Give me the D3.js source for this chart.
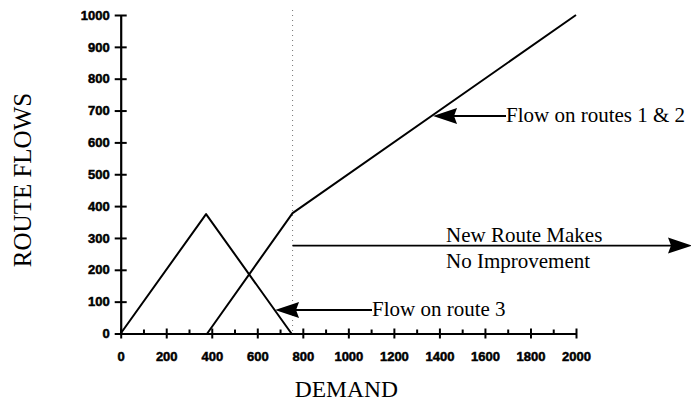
<!DOCTYPE html>
<html>
<head>
<meta charset="utf-8">
<script src="https://cdn.jsdelivr.net/npm/d3@7"></script>
<style>
  body { margin: 0; background: #fff; }
  svg { display: block; }
</style>
</head>
<body>
<div id="chart"></div>
<script>
// values
var route3 = [[0, 0], [375, 375], [750, 0]];
var routes12 = [[380, 0], [755, 378], [2000, 1000]];
var xTicks = [0, 200, 400, 600, 800, 1000, 1200, 1400, 1600, 1800, 2000];
var xMinor = [100, 300, 500, 700, 900, 1100, 1300, 1500, 1700, 1900];
var yTicks = [0, 100, 200, 300, 400, 500, 600, 700, 800, 900, 1000];
var breakDemand = 755;
var noImproveFlow = 276;
var route3Note = {x: 678, y: 74, text: 'Flow on route 3'};
var routes12Note = {x: 1372, y: 683, text: 'Flow on routes 1 & 2'};
var newRouteText = ['New Route Makes', 'No Improvement'];

var width = 691;
var height = 406;
var margin = {top: 15, right: 115, bottom: 72.5, left: 120.7};

var x = d3.scaleLinear()
    .domain([0, 2000])
    .range([margin.left, width - margin.right]);
var y = d3.scaleLinear()
    .domain([0, 1000])
    .range([height - margin.bottom, margin.top]);

var svg = d3.select('#chart')
    .append('svg')
    .attr('width', width)
    .attr('height', height)
    .attr('viewBox', [0, 0, width, height]);

var serif = '"Liberation Serif", "Times New Roman", serif';
var sans = '"Liberation Sans", Arial, sans-serif';

// heavy tick labels like the original
var styleTickText = g => g.selectAll('.tick text')
    .attr('font-family', sans)
    .attr('font-weight', 900)
    .attr('font-size', 13)
    .attr('stroke', '#000')
    .attr('stroke-width', 0.5);

// dotted vertical marker
svg.append('line')
    .attr('x1', x(breakDemand)).attr('x2', x(breakDemand))
    .attr('y1', 10).attr('y2', y(0))
    .attr('stroke', '#777')
    .attr('stroke-width', 1)
    .attr('stroke-dasharray', '1,4');

// minor x ticks (upward only)
svg.append('g')
    .attr('transform', `translate(0,${y(0)})`)
    .call(d3.axisBottom(x).tickValues(xMinor).tickSize(-4).tickFormat(''))
    .call(g => g.select('.domain').remove())
    .call(g => g.selectAll('line').attr('stroke-width', 2));

// x axis
svg.append('g')
    .attr('transform', `translate(0,${y(0)})`)
    .call(d3.axisBottom(x).tickValues(xTicks).tickFormat(d3.format('d'))
        .tickSizeInner(5).tickSizeOuter(0))
    .call(g => g.select('.domain').attr('stroke-width', 2.2))
    .call(g => g.selectAll('.tick line').attr('y1', -5).attr('stroke-width', 2))
    .call(styleTickText)
    .call(g => g.selectAll('.tick text').attr('y', 18));

// y axis
svg.append('g')
    .attr('transform', `translate(${x(0)},0)`)
    .call(d3.axisLeft(y).tickValues(yTicks).tickFormat(d3.format('d'))
        .tickSizeInner(6).tickSizeOuter(0).tickPadding(5))
    .call(g => g.select('.domain').attr('stroke-width', 2.2))
    .call(g => g.selectAll('.tick line').attr('x1', 6).attr('stroke-width', 2))
    .call(styleTickText);

// data lines
var line = d3.line()
    .x(d => x(d[0]))
    .y(d => y(d[1]));

[route3, routes12].forEach(function (data) {
    svg.append('path')
        .datum(data)
        .attr('fill', 'none')
        .attr('stroke', '#000')
        .attr('stroke-width', 2)
        .attr('stroke-linejoin', 'round')
        .attr('d', line);
});

// arrows
function arrowHead(tipX, tipY, dir) {
    var len = 24, half = 8;
    var bx = tipX - dir * len;
    svg.append('path')
        .attr('d', `M${tipX},${tipY}L${bx},${tipY - half}L${bx + dir * 3},${tipY}L${bx},${tipY + half}Z`)
        .attr('fill', '#000');
}

function noteArrow(note, lineEnd) {
    var tx = x(note.x), ty = y(note.y);
    svg.append('line')
        .attr('x1', tx + 10).attr('x2', lineEnd)
        .attr('y1', ty).attr('y2', ty)
        .attr('stroke', '#000')
        .attr('stroke-width', 2);
    arrowHead(tx, ty, -1);
    svg.append('text')
        .attr('x', lineEnd)
        .attr('y', ty + 6)
        .attr('font-family', serif)
        .attr('font-size', 21)
        .text(note.text);
}
noteArrow(route3Note, 372);
noteArrow(routes12Note, 506);

// "no improvement" arrow
var ny = y(noImproveFlow);
svg.append('line')
    .attr('x1', x(breakDemand)).attr('x2', 680)
    .attr('y1', ny).attr('y2', ny)
    .attr('stroke', '#000')
    .attr('stroke-width', 1.6);
arrowHead(692, ny, 1);

svg.append('g')
    .selectAll('text')
    .data(newRouteText)
    .join('text')
    .attr('x', 446)
    .attr('y', (d, i) => ny - 3.5 + i * 25.5)
    .attr('font-family', serif)
    .attr('font-size', 21)
    .text(d => d);

// axis titles
svg.append('text')
    .attr('x', x(1000) - 2)
    .attr('y', 397)
    .attr('text-anchor', 'middle')
    .attr('font-family', serif)
    .attr('font-size', 23.5)
    .text('DEMAND');

svg.append('text')
    .attr('transform', `translate(31,180) rotate(-90)`)
    .attr('text-anchor', 'middle')
    .attr('font-family', serif)
    .attr('font-size', 25)
    .text('ROUTE FLOWS');
</script>
</body>
</html>
